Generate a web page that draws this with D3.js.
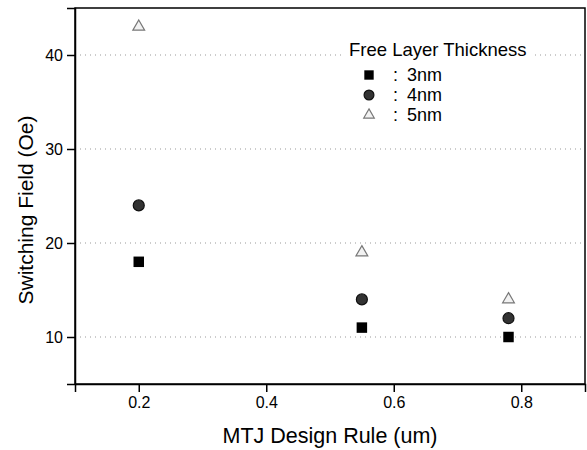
<!DOCTYPE html>
<html>
<head>
<meta charset="utf-8">
<script src="https://cdn.jsdelivr.net/npm/d3@7"></script>
<style>
  body { margin: 0; background: #fff; }
  svg { font-family: "Liberation Sans", Arial, sans-serif; }
</style>
</head>
<body>
<div id="chart"></div>
<script>
const designRule = [0.2, 0.55, 0.78];
const field3nm = [18, 11, 10];
const field4nm = [24, 14, 12];
const field5nm = [43, 19, 14];
const seriesNames = ["3nm", "4nm", "5nm"];
const xTicks = [0.2, 0.4, 0.6, 0.8];
const yTicks = [10, 20, 30, 40];

const width = 587, height = 450;
const margin = { top: 8, right: 2, bottom: 66, left: 75 };
const innerWidth = width - margin.left - margin.right;
const innerHeight = height - margin.top - margin.bottom;

const svg = d3.select("#chart").append("svg")
    .attr("width", width)
    .attr("height", height);

const g = svg.append("g")
    .attr("transform", `translate(${margin.left},${margin.top})`);

const x = d3.scaleLinear().domain([0.1, 0.9]).range([0, innerWidth]);
const y = d3.scaleLinear().domain([5, 45]).range([innerHeight, 0]);

// dotted grid
g.selectAll(".grid")
    .data(yTicks)
    .enter()
    .append("line")
    .attr("x1", 0)
    .attr("x2", innerWidth)
    .attr("y1", d => y(d))
    .attr("y2", d => y(d))
    .attr("stroke", "#999")
    .attr("stroke-width", 1)
    .attr("stroke-dasharray", "1,4");

// frame
g.append("rect")
    .attr("width", innerWidth)
    .attr("height", innerHeight)
    .attr("fill", "none")
    .attr("stroke", "#000")
    .attr("stroke-width", 1.5);

// axes
const xAxis = g.append("g")
    .attr("transform", `translate(0,${innerHeight})`)
    .call(d3.axisBottom(x).tickValues(xTicks).tickFormat(d3.format(".1f")).tickSize(8).tickPadding(5));
const yAxis = g.append("g")
    .call(d3.axisLeft(y).tickValues(yTicks).tickSize(8).tickPadding(4));

[xAxis, yAxis].forEach(a => {
    a.attr("font-size", 16);
    a.select(".domain").attr("stroke", "#000").attr("stroke-width", 1.5);
    a.selectAll(".tick line").attr("stroke", "#000").attr("stroke-width", 1.5);
    a.selectAll(".tick text")
        .style("font-size", "16px")
        .style("font-family", "Liberation Sans, Arial, sans-serif")
        .attr("fill", "#000");
});

// markers
const series = [
    { name: seriesNames[0], values: field3nm, symbol: d3.symbolSquare, size: 110, fill: "#000", stroke: "none" },
    { name: seriesNames[1], values: field4nm, symbol: d3.symbolCircle, size: 95, fill: "#333", stroke: "#111" },
    { name: seriesNames[2], values: field5nm, symbol: d3.symbolTriangle, size: 60, fill: "#f2f2f2", stroke: "#777" }
];

series.forEach(s => {
    g.selectAll(null)
        .data(designRule.map((d, i) => ({ x: d, y: s.values[i] })))
        .enter()
        .append("path")
        .attr("d", d3.symbol().type(s.symbol).size(s.size))
        .attr("transform", d => `translate(${x(d.x)},${y(d.y)})`)
        .attr("fill", s.fill)
        .attr("stroke", s.stroke)
        .attr("stroke-width", 1.2);
});

// legend (absolute page coordinates)
const legend = svg.append("g");
legend.append("rect")
    .attr("x", 344).attr("y", 40).attr("width", 190).attr("height", 20)
    .attr("fill", "#fff");
legend.append("text")
    .attr("x", 349)
    .attr("y", 56)
    .style("font-size", "18.5px")
    .text("Free Layer Thickness");

series.forEach((s, i) => {
    const yy = 75 + i * 20;
    legend.append("path")
        .attr("d", d3.symbol().type(s.symbol).size(s.size * 0.8))
        .attr("transform", `translate(369,${yy})`)
        .attr("fill", s.fill)
        .attr("stroke", s.stroke)
        .attr("stroke-width", 1.2);
    legend.append("text")
        .attr("x", 393)
        .attr("y", yy + 6)
        .style("font-size", "18px")
        .text(":");
    legend.append("text")
        .attr("x", 407)
        .attr("y", yy + 6)
        .style("font-size", "18px")
        .text(s.name);
});

// axis labels
svg.append("text")
    .attr("text-anchor", "middle")
    .attr("x", 330)
    .attr("y", 443)
    .style("font-size", "21.5px")
    .text("MTJ Design Rule (um)");

svg.append("text")
    .attr("text-anchor", "middle")
    .attr("transform", "translate(33,210) rotate(-90)")
    .style("font-size", "21px")
    .text("Switching Field (Oe)");
</script>
</body>
</html>
